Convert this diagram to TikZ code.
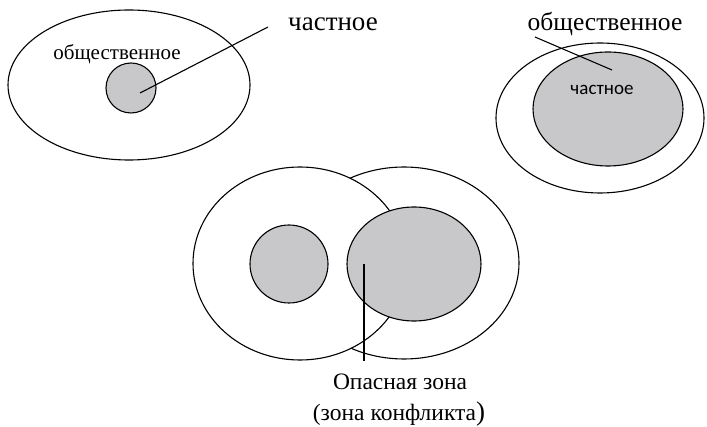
\documentclass[tikz,border=0pt]{standalone}
\usepackage{fontspec}
\setmainfont{Liberation Serif}
\newfontfamily\sansfont{Carlito}
\usepackage{tikz}
\usetikzlibrary{calc}
\definecolor{zonegray}{RGB}{200,200,202}
\tikzset{>=stealth}

\begin{document}
\begin{tikzpicture}[x=1pt,y=-1pt,line width=1.1pt]
   \useasboundingbox (0,0) rectangle (707,427);

   % private part inside the public one
   \draw (129,85) ellipse [x radius=121, y radius=75];
   \draw[fill=zonegray] (131,88) circle (25);
   \node[font=\fontsize{21}{24}\selectfont] at (117,54) (pubA) {общественное};
   \node[font=\fontsize{27}{30}\selectfont] at (333,24) (privA) {частное};
   \coordinate (pa) at (140,93);
   \coordinate (ea) at (268,27);
   \draw (pa)--(ea);

   % public part shrunk around the private one
   \draw (600,118) ellipse [x radius=104, y radius=75];
   \draw[fill=zonegray] (608,109) ellipse [x radius=75, y radius=57];
   \node[font=\sansfont\fontsize{19}{22}\selectfont] at (602,90) (privB) {частное};
   \node[font=\fontsize{25.5}{29}\selectfont] at (605,24) (pubB) {общественное};
   \coordinate (pb) at (535,37);
   \coordinate (eb) at (612,70);
   \draw (pb)--(eb);

   % overlapping spheres
   \draw[fill=white] (404,263) ellipse [x radius=115, y radius=96];
   \draw[fill=white] (300,263.5) ellipse [x radius=107, y radius=96.5];
   \draw[fill=zonegray] (289,264) circle (39);
   \draw[fill=zonegray] (414,264) ellipse [x radius=67, y radius=57];
   \node[font=\fontsize{23.5}{27}\selectfont] at (400,382) (zone) {Опасная зона};
   \node[font=\fontsize{23.5}{27}\selectfont] at (399,414) (conf) {(зона конфликта{\fontsize{27}{30}\selectfont)}};
   \coordinate (pc) at (364,264);
   \coordinate (ec) at (364,361);
   \draw (pc)--(ec);
\end{tikzpicture}
\end{document}
